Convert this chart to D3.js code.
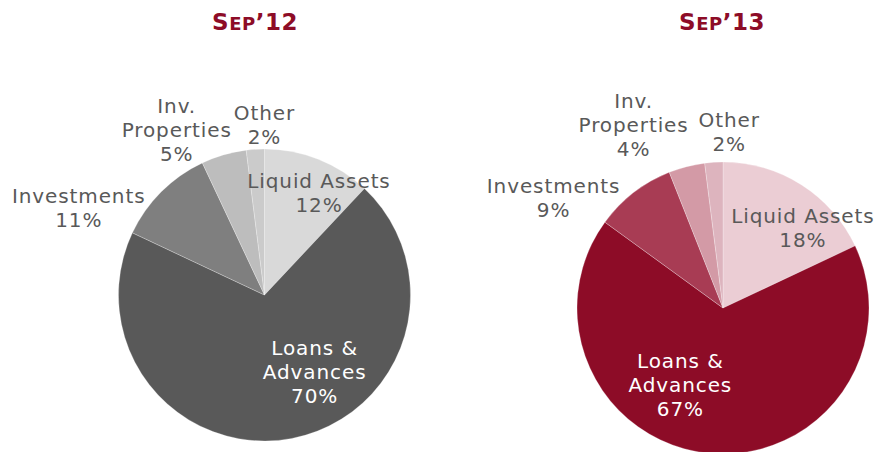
<!DOCTYPE html>
<html>
<head>
<meta charset="utf-8">
<script src="https://cdn.jsdelivr.net/npm/d3@7"></script>
<style>
  body { margin: 0; background: #fff; }
  svg text { font-family: "DejaVu Sans", Verdana, sans-serif; }
</style>
</head>
<body>
<div class="interactive-pies"></div>
<script>
const categories = ['Liquid Assets', 'Loans & Advances', 'Investments', 'Inv. Properties', 'Other']

// label lines as printed on the chart
const labelLines = [['Liquid Assets'], ['Loans &', 'Advances'], ['Investments'], ['Inv.', 'Properties'], ['Other']]

const sep12 = [12, 70, 11, 5, 2]
const sep13 = [18, 67, 9, 4, 2]

const titles = [['S', 'EP', '\u201912'], ['S', 'EP', '\u201913']]

const greys = ['#d9d9d9', '#595959', '#7f7f7f', '#bdbdbd', '#cbcbcb']
const reds = ['#ebcdd4', '#8d0c27', '#a83c54', '#d39aa6', '#ddb4be']

const width = 874
const height = 452
const radius = 146

// where each label sits: angle from 12 o'clock (deg) and distance from centre
const labelPlaces = [
  [[28, 116], [147, 92], [-65, 205], [-28, 187], [0, 170]],
  [[45, 113], [209, 88], [-57, 202], [-26, 204], [2, 176]]
]

const charts = [
  {values: sep12, colors: greys, title: titles[0], cx: 264.5, cy: 295, tx: 255, places: labelPlaces[0]},
  {values: sep13, colors: reds, title: titles[1], cx: 723, cy: 308, tx: 722, places: labelPlaces[1]}
]

const svg = d3.select('.interactive-pies')
  .append('svg')
  .attr('width', width)
  .attr('height', height)

const pie = d3.pie().sort(null).value(d => d)
const arc = d3.arc().innerRadius(0).outerRadius(radius)

charts.forEach(chart => {

  const title = svg.append('text')
    .attr('x', chart.tx)
    .attr('y', 30)
    .attr('text-anchor', 'middle')
    .attr('fill', '#8d0c27')
    .attr('font-weight', 'bold')
    .attr('font-size', 23)
    .attr('letter-spacing', 0.5)

  title.append('tspan').text(chart.title[0])
  title.append('tspan').attr('font-size', 18).text(chart.title[1])
  title.append('tspan').text(chart.title[2])

  const g = svg.append('g')
    .attr('transform', 'translate(' + chart.cx + ',' + chart.cy + ')')

  const slices = pie(chart.values)

  g.selectAll('path')
    .data(slices)
    .enter()
    .append('path')
    .attr('d', arc)
    .attr('fill', (d, i) => chart.colors[i])
    .attr('stroke', '#fff')
    .attr('stroke-opacity', 0.35)
    .attr('stroke-width', 0.75)

  const labels = g.selectAll('.label')
    .data(slices)
    .enter()
    .append('text')
    .attr('class', 'label')
    .attr('text-anchor', 'middle')
    .attr('font-size', 20)
    .attr('letter-spacing', 0.9)
    .attr('fill', (d, i) => i === 1 ? '#ffffff' : '#595959')
    .attr('transform', (d, i) => {
      const a = chart.places[i][0] * Math.PI / 180
      const r = chart.places[i][1]
      return 'translate(' + (r * Math.sin(a)) + ',' + (-r * Math.cos(a)) + ')'
    })

  labels.each(function(d, i) {
    const lines = labelLines[i].concat([d.value + '%'])
    const lineH = 24
    const top = -(lines.length - 1) * lineH / 2 + 7
    lines.forEach((line, j) => {
      d3.select(this).append('tspan')
        .attr('x', 0)
        .attr('y', top + j * lineH)
        .text(line)
    })
  })
})
</script>
</body>
</html>
